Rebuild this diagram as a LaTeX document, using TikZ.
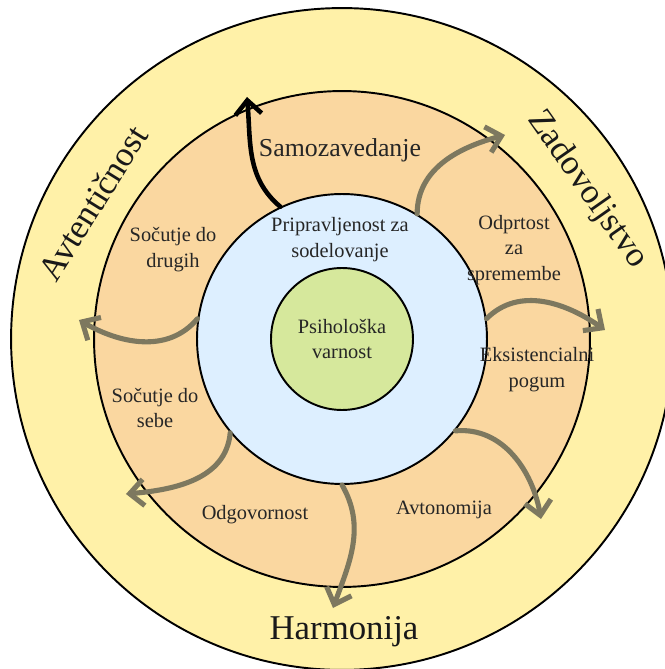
\documentclass[tikz,border=0pt]{standalone}
\usepackage{fontspec}
\setmainfont{Liberation Serif}
\usetikzlibrary{arrows.meta}
\definecolor{sunny}{HTML}{FFF1A8}
\definecolor{peach}{HTML}{FAD7A0}
\definecolor{skyblue}{HTML}{DDEFFF}
\definecolor{lime}{HTML}{D6E89C}
\definecolor{driftgray}{HTML}{7D785F}

\begin{document}
\begin{tikzpicture}[x=0.02cm, y=0.02cm,
    ring/.style={circle, draw, line width=1.1pt, inner sep=0pt},
    flow/.style={-{Straight Barb[length=8pt,width=15pt]}, line width=2.9pt,
      draw=driftgray, line cap=round},
    txt/.style={align=center, text=black!85,
      font=\fontsize{11.6}{14.7}\selectfont},
    big/.style={text=black!90, font=\fontsize{19.8}{24}\selectfont}]
  \useasboundingbox (-342,-330) rectangle (323,339);
  \clip (-342,-330) rectangle (323,339);

  % rings
  \node[ring, fill=sunny, minimum size=13.24cm] (outer) at (0,0) {};
  \node[ring, fill=peach, minimum size=9.92cm] (middle) at (0,0) {};
  \node[ring, fill=skyblue, minimum size=5.8cm] (blue) at (0,0) {};
  \node[ring, fill=lime, minimum size=2.84cm, txt] (core) at (0,0)
    {Psihološka\\varnost};

  % outer ring labels
  \node[big, rotate=58] (authentic) at (151.4:284) {Avtentičnost};
  \node[big, rotate=-55] (content) at (31.3:287) {Zadovoljstvo};
  \node[big] (harmony) at (2,-293) {Harmonija};

  % middle ring labels
  \node[txt, font=\fontsize{14.7}{18}\selectfont] (selfaware) at (-2,189)
    {Samozavedanje};
  \node[txt] (ready) at (-2,99) {Pripravljenost za\\sodelovanje};
  \node[txt] (others) at (-169,89) {Sočutje do\\drugih};
  \node[txt] (open) at (172,89) {Odprtost\\za\\spremembe};
  \node[txt] (courage) at (195,-31) {Eksistencialni\\pogum};
  \node[txt] (autonomy) at (102,-171) {Avtonomija};
  \node[txt] (duty) at (-87,-176) {Odgovornost};
  \node[txt] (selfcare) at (-187,-69) {Sočutje do\\sebe};

  % arrow ends
  \coordinate (tipSelf) at (-95,242);
  \coordinate (tipOpen) at (163,204);
  \coordinate (tipCourage) at (263,9);
  \coordinate (tipAuto) at (199,-180);
  \coordinate (tipDuty) at (-9,-269);
  \coordinate (tipCare) at (-216,-155);
  \coordinate (tipOthers) at (-263,19);

  % arrows
  \draw[-{Straight Barb[length=8pt,width=15pt]}, line width=2.6pt,
    line cap=round] (blue.115) to[out=140, in=-85] (tipSelf);
  \draw[flow] (blue.59) to[out=90, in=195] (tipOpen);
  \draw[flow] (blue.8) to[out=45, in=145] (tipCourage);
  \draw[flow] (blue.-39) to[out=5, in=100] (tipAuto);
  \draw[flow] (blue.-90) to[out=-60, in=70] (tipDuty);
  \draw[flow] (blue.220) to[out=-95, in=5] (tipCare);
  \draw[flow] (blue.172) to[out=-130, in=-30] (tipOthers);
\end{tikzpicture}
\end{document}
